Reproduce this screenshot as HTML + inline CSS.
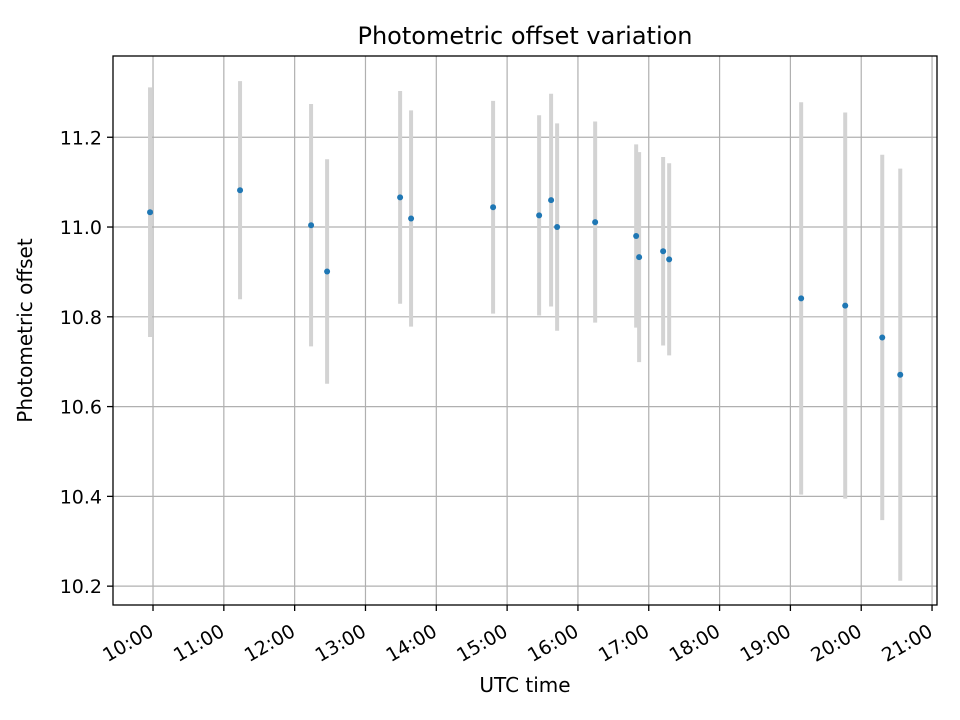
<!DOCTYPE html>
<html><head><meta charset="utf-8"><style>
body{margin:0;background:#fff}
svg{display:block;font-family:"DejaVu Sans","Liberation Sans",sans-serif}
</style></head><body>
<svg id="chart" width="960" height="720"></svg>
<script>
const hours=[9.958,11.229,12.232,12.458,13.489,13.644,14.802,15.452,15.621,15.706,16.243,16.822,16.864,17.203,17.288,19.152,19.774,20.297,20.551];
const offsets=[11.033,11.082,11.004,10.901,11.066,11.019,11.044,11.026,11.060,11.000,11.011,10.980,10.933,10.946,10.928,10.841,10.825,10.754,10.671];
const errors=[0.278,0.243,0.270,0.250,0.237,0.241,0.237,0.223,0.237,0.231,0.224,0.204,0.234,0.210,0.214,0.437,0.430,0.407,0.459];
const xTicks=[10,11,12,13,14,15,16,17,18,19,20,21];
const yTicks=[10.2,10.4,10.6,10.8,11.0,11.2];
const L=113,R=937,T=56,B=605;
const xMin=9.435,xMax=21.07,yMin=10.158,yMax=11.381;
const sx=h=>L+(h-xMin)/(xMax-xMin)*(R-L);
const sy=v=>B-(v-yMin)/(yMax-yMin)*(B-T);
const svg=document.getElementById('chart');
const NS='http://www.w3.org/2000/svg';
function mk(tag,attrs,parent){const e=document.createElementNS(NS,tag);for(const k in attrs)e.setAttribute(k,attrs[k]);(parent||svg).appendChild(e);return e;}
const grid=mk('g',{});


xTicks.forEach(h=>{const x=sx(h);
 const g=mk('line',{x1:x,x2:x,y1:T,y2:B,stroke:'#b0b0b0','stroke-width':1.2},grid);
 
 
 const t=mk('line',{x1:x,x2:x,y1:B,y2:B+6,stroke:'#000','stroke-width':1.3});
 
 
 const lab=mk('text',{x:x+2,y:B+30,'font-size':19,'text-anchor':'end',transform:`rotate(-30 ${x+2} ${B+30})`});
 lab.textContent=String(h).padStart(2,'0')+':00';
 
 
});
yTicks.forEach(v=>{const y=sy(v);
 const g=mk('line',{x1:L,x2:R,y1:y,y2:y,stroke:'#b0b0b0','stroke-width':1.2},grid);
 
 
 const t=mk('line',{x1:L-6,x2:L,y1:y,y2:y,stroke:'#000','stroke-width':1.3});
 
 
 const lab=mk('text',{x:L-11,y:y+7,'font-size':19,'text-anchor':'end'});
 lab.textContent=v.toFixed(1);
 
 
});
hours.forEach((h,i)=>{const x=sx(h);
 const e=mk('line',{x1:x,x2:x,y1:sy(offsets[i]+errors[i]),y2:sy(offsets[i]-errors[i]),stroke:'#d3d3d3','stroke-width':4});
 
 
});
hours.forEach((h,i)=>{
 const c=mk('circle',{cx:sx(h),cy:sy(offsets[i]),r:3,fill:'#1f77b4'});
 
 
});
const frame=mk('rect',{x:L,y:T,width:R-L,height:B-T,fill:'none',stroke:'#000','stroke-width':1.3});


const title=mk('text',{x:(L+R)/2,y:44,'font-size':24,'text-anchor':'middle'});
title.textContent='Photometric offset variation';


const xl=mk('text',{x:(L+R)/2,y:692,'font-size':20,'text-anchor':'middle'});
xl.textContent='UTC time';


const yl=mk('text',{x:38,y:(T+B)/2,'font-size':20,'text-anchor':'middle',transform:`rotate(-90 38 ${(T+B)/2})`});
yl.setAttribute('x',32);
yl.setAttribute('transform',`rotate(-90 32 ${(T+B)/2})`);
yl.textContent='Photometric offset';


</script>
</body></html>
